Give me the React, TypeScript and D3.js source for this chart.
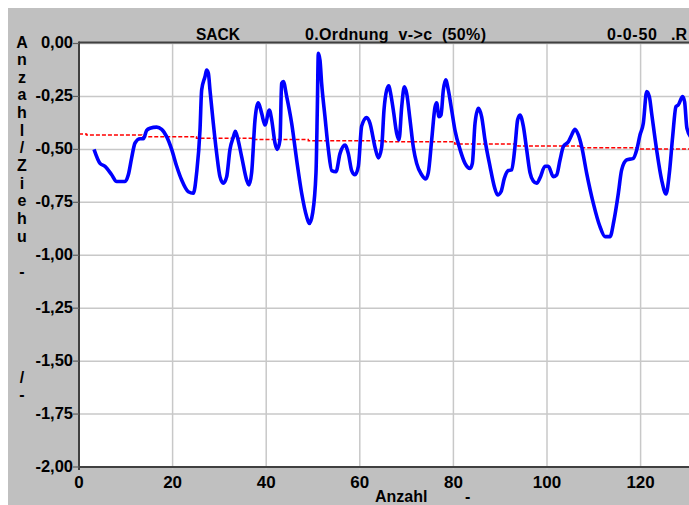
import React from "react";
import * as d3 from "d3";

const titleLeft = "SACK";
const titleMid = "0.Ordnung  v->c  (50%)";
const titleRightA = "0-0-50";
const titleRightB = ".R";
const xAxisLabel = "Anzahl";
const yAxisChars = ["A","n","z","a","h","l","/","Z","i","e","h","u"," ","-"," "," "," "," "," ","/","-"];

const xTicks = [0, 20, 40, 60, 80, 100, 120];
const yTicks = [0, -0.25, -0.5, -0.75, -1, -1.25, -1.5, -1.75, -2];

const lineX = [3.21,4.49,5.56,6.98,8.05,9.83,10.54,11.25,11.97,13.03,13.75,14.46,15.17,16.6,17.66,18.73,19.8,20.87,21.94,23.36,24.43,25.14,25.85,26.21,26.92,27.28,27.64,27.99,28.7,29.42,30.13,30.84,31.55,32.26,33.0,33.4,33.69,34.76,35.83,36.32,36.89,37.61,38.32,39.03,39.74,40.67,41.17,41.88,42.38,42.95,43.3,43.66,44.37,45.44,46.51,47.58,48.65,49.22,49.93,50.64,50.93,51.14,51.5,51.85,52.56,53.28,53.99,54.91,55.77,56.84,57.55,58.26,58.97,59.69,60.4,61.47,62.18,63.25,63.96,64.67,65.17,65.74,66.2,66.45,67.16,67.88,68.38,68.95,69.52,70.01,70.73,71.44,72.15,73.22,74.07,74.64,75.36,76.07,76.42,76.92,77.35,77.85,78.35,78.92,79.63,80.34,81.41,82.48,83.55,84.05,84.62,85.33,86.04,86.75,87.82,88.75,89.46,90.17,90.88,91.74,92.45,93.16,93.73,94.23,94.94,95.65,96.37,97.08,97.79,98.5,99.57,100.28,101.35,102.06,102.78,103.49,104.56,105.27,105.98,106.7,107.41,108.48,109.9,111.32,112.39,113.46,114.32,115.24,115.95,117.02,118.45,119.16,119.87,120.58,121.3,121.87,122.36,123.43,124.5,125.43,126.14,126.85,127.56,128.06,128.99,129.4,129.9,131];
const lineY = [-0.5,-0.566,-0.58,-0.62,-0.652,-0.652,-0.62,-0.54,-0.47,-0.45,-0.45,-0.41,-0.4,-0.395,-0.405,-0.44,-0.5,-0.58,-0.645,-0.7,-0.707,-0.61,-0.41,-0.22,-0.157,-0.125,-0.14,-0.22,-0.377,-0.52,-0.63,-0.66,-0.63,-0.5,-0.44,-0.415,-0.43,-0.535,-0.645,-0.668,-0.61,-0.36,-0.28,-0.33,-0.385,-0.314,-0.36,-0.47,-0.5,-0.455,-0.188,-0.18,-0.25,-0.377,-0.55,-0.707,-0.818,-0.85,-0.8,-0.61,-0.3,-0.046,-0.08,-0.19,-0.346,-0.5,-0.6,-0.605,-0.52,-0.48,-0.52,-0.6,-0.62,-0.58,-0.39,-0.35,-0.377,-0.49,-0.54,-0.49,-0.314,-0.22,-0.2,-0.22,-0.314,-0.424,-0.455,-0.3,-0.204,-0.235,-0.36,-0.49,-0.566,-0.62,-0.64,-0.61,-0.455,-0.3,-0.28,-0.346,-0.338,-0.22,-0.172,-0.22,-0.314,-0.41,-0.5,-0.566,-0.59,-0.566,-0.377,-0.306,-0.346,-0.455,-0.58,-0.676,-0.715,-0.7,-0.637,-0.6,-0.597,-0.487,-0.36,-0.338,-0.39,-0.5,-0.61,-0.65,-0.66,-0.635,-0.58,-0.58,-0.629,-0.621,-0.55,-0.487,-0.464,-0.432,-0.405,-0.432,-0.487,-0.613,-0.755,-0.865,-0.912,-0.912,-0.834,-0.708,-0.597,-0.55,-0.542,-0.503,-0.432,-0.377,-0.227,-0.251,-0.33,-0.503,-0.645,-0.711,-0.613,-0.44,-0.298,-0.29,-0.251,-0.275,-0.4,-0.45];

const trendX = [0, 1.6, 13.4, 25.1, 36.9, 49, 65.4, 80.3, 93.8, 107, 119.2, 131];
const trendY = [-0.427, -0.432, -0.44, -0.448, -0.453, -0.459, -0.464, -0.475, -0.484, -0.492, -0.498, -0.5];

const FONT = "'Liberation Sans', Arial, sans-serif";

export default function App() {
  const W = 689, H = 505;
  const left = 79, top = 43.5, bottom = 467;
  const x = d3.scaleLinear().domain([0, 20]).range([left, left + 93.6]);
  const y = d3.scaleLinear().domain([-2, 0]).range([bottom, top]);
  const right = W + 5;

  const line = d3.line<number>()
    .x((_, i) => x(lineX[i]))
    .y((d) => y(d))
    .curve(d3.curveMonotoneX);
  const trend = d3.line<number>()
    .x((_, i) => x(trendX[i]))
    .y((d) => y(d))
    .curve(d3.curveStepAfter);

  const fmt = (v: number) => d3.format(".2f")(v).replace(".", ",").replace("−", "-");

  return (
    <svg width={W} height={H} style={{ display: "block", position: "fixed", left: 0, top: 0, background: "#ffffff" }}>
      <rect x={8} y={8} width={W} height={H} fill="#c0c0c0" />
      <defs>
        <clipPath id="plotclip">
          <rect x={left} y={top} width={right - left} height={bottom - top} />
        </clipPath>
      </defs>
      <rect x={left} y={top} width={right - left} height={bottom - top} fill="#ffffff" />
      {yTicks.map((t) => (
        <line key={"gy" + t} x1={left} x2={right} y1={y(t)} y2={y(t)} stroke="#c8c8c8" strokeWidth={1.5} />
      ))}
      {xTicks.filter((t) => t > 0).map((t) => (
        <line key={"gx" + t} x1={x(t)} x2={x(t)} y1={top} y2={bottom + 3} stroke="#c8c8c8" strokeWidth={1.5} />
      ))}
      <g clipPath="url(#plotclip)">
        <path d={trend(trendY) || ""} fill="none" stroke="#ff0000" strokeWidth={1.5} strokeDasharray="4,2" />
        <path d={line(lineY) || ""} fill="none" stroke="#0000ff" strokeWidth={3.6} strokeLinejoin="round" />
      </g>
      <line x1={left} x2={right} y1={top - 1} y2={top - 1} stroke="#404040" strokeWidth={2} />
      <line x1={left} x2={right} y1={bottom} y2={bottom} stroke="#404040" strokeWidth={2} />
      <line x1={left} x2={left} y1={top - 2} y2={bottom + 3} stroke="#404040" strokeWidth={2} />
      {yTicks.map((t) => (
        <g key={"yt" + t}>
          <line x1={left - 6} x2={left} y1={y(t)} y2={y(t)} stroke="#606060" strokeWidth={1.2} />
          <text x={left - 6} y={y(t) + 4.5} textAnchor="end" fontFamily={FONT} fontWeight="bold" fontSize={16.5} fill="#000">
            {fmt(t)}
          </text>
        </g>
      ))}
      {xTicks.map((t) => (
        <text key={"xt" + t} x={x(t)} y={488} textAnchor="middle" fontFamily={FONT} fontWeight="bold" fontSize={17} fill="#000">
          {t}
        </text>
      ))}
      <text x={375} y={501.5} fontFamily={FONT} fontWeight="bold" fontSize={16} fill="#000">{xAxisLabel}</text>
      <text x={465} y={501.5} fontFamily={FONT} fontWeight="bold" fontSize={16} fill="#000">-</text>
      {yAxisChars.map((c, i) => (
        <text key={"ya" + i} x={22} y={47.5 + i * 17.64} textAnchor="middle" fontFamily={FONT} fontWeight="bold" fontSize={16} fill="#000">
          {c}
        </text>
      ))}
      <text x={196} y={40} fontFamily={FONT} fontWeight="bold" fontSize={16} fill="#000" textLength={44} lengthAdjust="spacingAndGlyphs">{titleLeft}</text>
      <text x={305} y={40} fontFamily={FONT} fontWeight="bold" fontSize={16} fill="#000" style={{ whiteSpace: "pre" }} textLength={181} lengthAdjust="spacing">{titleMid}</text>
      <text x={607} y={40} fontFamily={FONT} fontWeight="bold" fontSize={16} fill="#000" textLength={50} lengthAdjust="spacing">{titleRightA}</text>
      <text x={671} y={40} fontFamily={FONT} fontWeight="bold" fontSize={16} fill="#000">{titleRightB}</text>
    </svg>
  );
}
